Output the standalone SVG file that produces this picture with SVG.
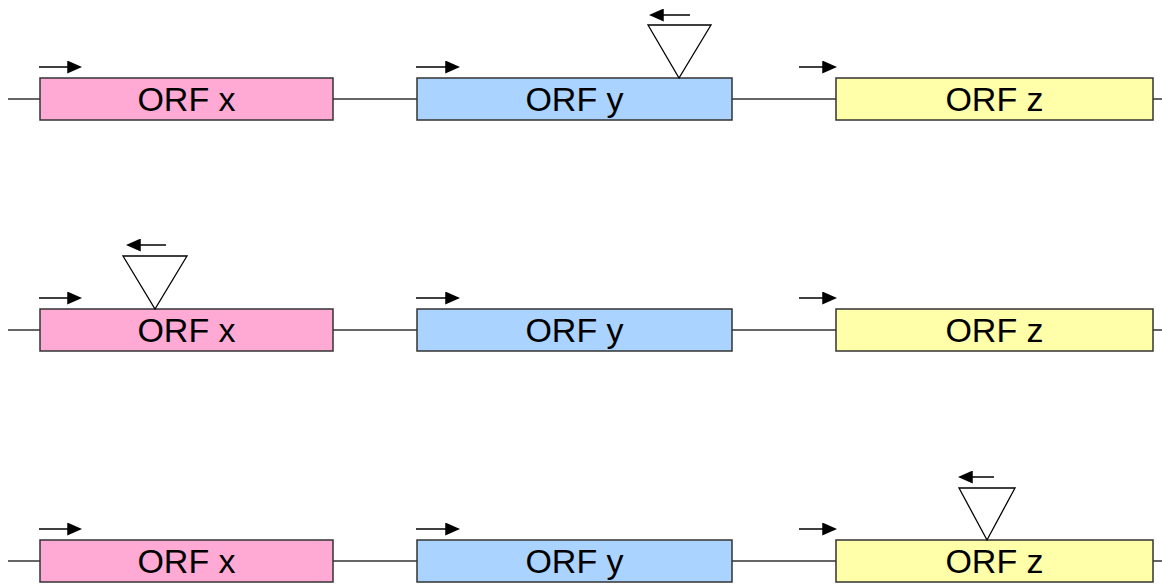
<svg xmlns="http://www.w3.org/2000/svg" width="1162" height="586" viewBox="0 0 1162 586">
  <style>
    .dna { stroke: #333; stroke-width: 1.5; fill: none; }
    .orf { stroke: #333; stroke-width: 1.5; }
    .x { fill: #FFAAD4; }
    .y { fill: #AAD4FF; }
    .z { fill: #FFFFAA; }
    .lbl { font-family: "Liberation Sans", Arial, sans-serif; font-size: 34px; fill: #000; text-anchor: middle; }
    .arr { stroke: #000; stroke-width: 1.5; fill: none; }
    .tri { fill: #fff; stroke: #000; stroke-width: 1.3; }
  </style>
  <defs>
    <marker id="head" viewBox="0 0 10 10" refX="0.5" refY="5" markerWidth="15" markerHeight="13" markerUnits="userSpaceOnUse" orient="auto" preserveAspectRatio="none">
      <path d="M0,0 L10,5 L0,10 Z" fill="#000"/>
    </marker>
  </defs>

  <!-- backbone lines and arrows -->
  <g id="connectors">
    <line class="dna" x1="8" y1="99" x2="1162" y2="99"/>
    <line class="dna" x1="8" y1="330" x2="1162" y2="330"/>
    <line class="dna" x1="8" y1="561" x2="1162" y2="561"/>
    <!-- promoter arrows -->
    <line class="arr" x1="39" y1="67" x2="68" y2="67" marker-end="url(#head)"/>
    <line class="arr" x1="416" y1="67" x2="446" y2="67" marker-end="url(#head)"/>
    <line class="arr" x1="799" y1="67" x2="823" y2="67" marker-end="url(#head)"/>
    <line class="arr" x1="39" y1="298" x2="68" y2="298" marker-end="url(#head)"/>
    <line class="arr" x1="416" y1="298" x2="446" y2="298" marker-end="url(#head)"/>
    <line class="arr" x1="799" y1="298" x2="823" y2="298" marker-end="url(#head)"/>
    <line class="arr" x1="39" y1="529" x2="68" y2="529" marker-end="url(#head)"/>
    <line class="arr" x1="416" y1="529" x2="446" y2="529" marker-end="url(#head)"/>
    <line class="arr" x1="799" y1="529" x2="823" y2="529" marker-end="url(#head)"/>
    <!-- insertion orientation arrows -->
    <line class="arr" x1="690" y1="15" x2="663" y2="15" marker-end="url(#head)"/>
    <line class="arr" x1="166" y1="245" x2="140" y2="245" marker-end="url(#head)"/>
    <line class="arr" x1="994" y1="477" x2="972" y2="477" marker-end="url(#head)"/>
  </g>

  <!-- row 1 -->
  <g id="r1-orfx">
    <rect class="orf x" x="40" y="78" width="293" height="42"/>
    <text class="lbl" x="186.5" y="111">ORF x</text>
  </g>
  <g id="r1-orfy">
    <rect class="orf y" x="417" y="78" width="315" height="42"/>
    <text class="lbl" x="574.5" y="111">ORF y</text>
  </g>
  <g id="r1-orfz">
    <rect class="orf z" x="836" y="78" width="317" height="42"/>
    <text class="lbl" x="994.5" y="111">ORF z</text>
  </g>
  <g id="r1-insert">
    <polygon class="tri" points="648,25 711,25 679,78"/>
  </g>

  <!-- row 2 -->
  <g id="r2-orfx">
    <rect class="orf x" x="40" y="309" width="293" height="42"/>
    <text class="lbl" x="186.5" y="342">ORF x</text>
  </g>
  <g id="r2-orfy">
    <rect class="orf y" x="417" y="309" width="315" height="42"/>
    <text class="lbl" x="574.5" y="342">ORF y</text>
  </g>
  <g id="r2-orfz">
    <rect class="orf z" x="836" y="309" width="317" height="42"/>
    <text class="lbl" x="994.5" y="342">ORF z</text>
  </g>
  <g id="r2-insert">
    <polygon class="tri" points="123,256 187,256 155,309"/>
  </g>

  <!-- row 3 -->
  <g id="r3-orfx">
    <rect class="orf x" x="40" y="540" width="293" height="42"/>
    <text class="lbl" x="186.5" y="573">ORF x</text>
  </g>
  <g id="r3-orfy">
    <rect class="orf y" x="417" y="540" width="315" height="42"/>
    <text class="lbl" x="574.5" y="573">ORF y</text>
  </g>
  <g id="r3-orfz">
    <rect class="orf z" x="836" y="540" width="317" height="42"/>
    <text class="lbl" x="994.5" y="573">ORF z</text>
  </g>
  <g id="r3-insert">
    <polygon class="tri" points="959,488 1015,488 987,540"/>
  </g>
</svg>
